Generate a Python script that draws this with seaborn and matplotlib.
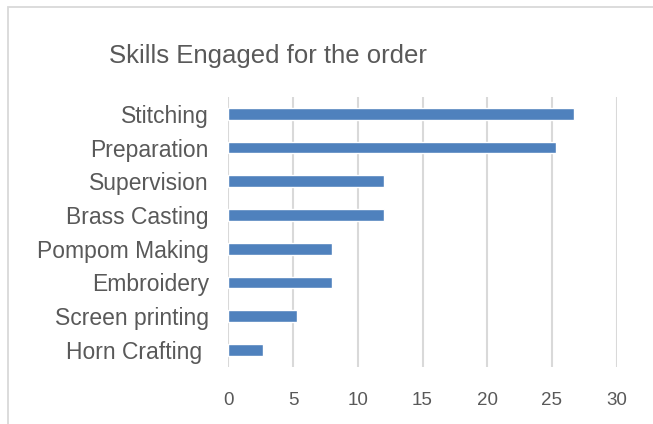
import pandas as pd
import matplotlib.pyplot as plt
import seaborn as sns
from matplotlib.patches import Rectangle

# Data (share of 75 workers, in percent)
skills = ["Stitching", "Preparation", "Supervision", "Brass Casting",
          "Pompom Making", "Embroidery", "Screen printing", "Horn Crafting "]
share = [26.67, 25.33, 12, 12, 8, 8, 5.33, 2.67]
xticks = [0, 5, 10, 15, 20, 25, 30]

df = pd.DataFrame({"skill": skills, "share": share})

sns.set_style("white")
plt.rcParams['font.family'] = ['Liberation Sans', 'DejaVu Sans']

fig = plt.figure(figsize=(6.53, 4.24), dpi=100)
ax = fig.add_axes([228.3 / 653, 1 - 366.7 / 424, (616.7 - 228.3) / 653, (366.7 - 97) / 424])

sns.barplot(data=df, x="share", y="skill", color="#4F81BD", saturation=1,
            width=0.35, ax=ax, orient="h")

ax.set_xlim(0, 30)
ax.set_ylim(7.5, -0.5)
ax.set_xticks(xticks)
ax.set_xticklabels([str(t) for t in xticks])
ax.grid(axis="x", color="#D9D9D9", linewidth=1.5)
ax.set_axisbelow(True)
for s in ax.spines.values():
    s.set_visible(False)
ax.set_xlabel("")
ax.set_ylabel("")
ax.tick_params(axis="y", length=0, pad=14, labelsize=16.5, labelcolor="#595959")
ax.tick_params(axis="x", length=0, pad=18, labelsize=13.5, labelcolor="#595959")

fig.text(268 / 653, 1 - 56 / 424, "Skills Engaged for the order", ha="center",
         va="center", fontsize=18.5, color="#595959")

# chart area border
fig.patches.append(Rectangle((8 / 653, -0.1), 1.2, 1 - 6.5 / 424 + 0.1,
                             transform=fig.transFigure, fill=False,
                             edgecolor="#D9D9D9", linewidth=1.3))

fig.savefig("out.png", dpi=100)
